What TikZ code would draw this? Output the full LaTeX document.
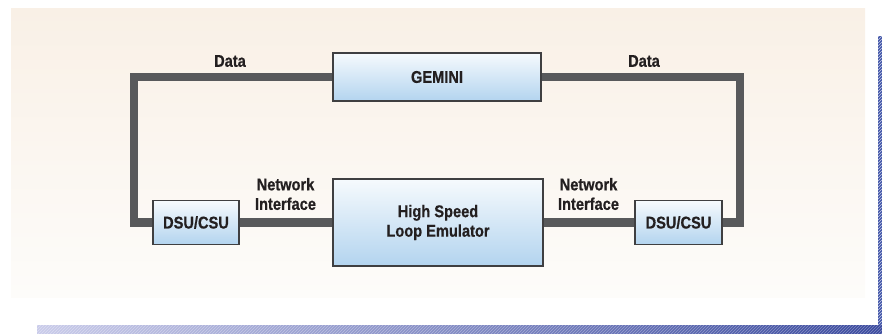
\documentclass[tikz,border=0pt]{standalone}
\usepackage{fontspec}
\usetikzlibrary{patterns}
\newfontfamily\labelfont[FakeStretch=0.86,FakeBold=0.6]{Liberation Sans}

\definecolor{panelTop}{HTML}{F9F0E6}
\definecolor{panelBottom}{HTML}{FDFCFA}
\definecolor{wireGray}{HTML}{58595B}
\definecolor{boxEdge}{HTML}{3F3F41}
\definecolor{boxTop}{HTML}{F6FAFD}
\definecolor{boxBottom}{HTML}{B3D4EF}
\definecolor{inkDark}{HTML}{231F20}
\definecolor{barLight}{HTML}{CACCEA}
\definecolor{barDark}{HTML}{3A4A9E}
\definecolor{barSide}{HTML}{4155A8}

\pgfdeclarelayer{backdrop}
\pgfdeclarelayer{wires}
\pgfsetlayers{backdrop,wires,main}

\tikzset{
  labeltext/.style={font=\labelfont\bfseries\fontsize{17}{19.5}\selectfont, text=inkDark, align=center},
  unitbox/.style={labeltext, draw=boxEdge, line width=1.3pt, top color=boxTop, bottom color=boxBottom,
    inner sep=0pt},
  tag/.style={labeltext, inner sep=0pt},
  wire/.style={draw=wireGray, line width=8.5pt, line join=miter, line cap=butt},
}

\begin{document}
\begin{tikzpicture}[x=1pt, y=1pt]
\useasboundingbox (0,0) rectangle (882,333);

\begin{pgfonlayer}{backdrop}
  % background panel with a warm vertical fade
  \shade[top color=panelTop, bottom color=panelBottom] (11,36) rectangle (865,324);
  % blue frame bars on the right and at the bottom
  \fill[barSide] (878,8) rectangle (882,297);
  \fill[pattern=north east lines, pattern color=white!70!barSide] (878,8) rectangle (882,297);
  \shade[left color=barLight, right color=barDark] (37,0) rectangle (882,8);
  \fill[pattern=north east lines, pattern color=white, opacity=0.35] (37,0) rectangle (882,8);
\end{pgfonlayer}

% units
\node[unitbox, minimum width=208pt, minimum height=48pt] (gem) at (437,256) {GEMINI};
\node[unitbox, minimum width=210pt, minimum height=87pt] (hsle) at (438,110.5) {High Speed\\Loop Emulator};
\node[unitbox, minimum width=86pt, minimum height=44pt] (dsul) at (196,110.5) {DSU/CSU};
\node[unitbox, minimum width=87pt, minimum height=44pt] (dsur) at (678.5,110.5) {DSU/CSU};

% loop corners
\coordinate (tl) at (134,256);
\coordinate (tr) at (740,256);

\begin{pgfonlayer}{wires}
  \draw[wire] (gem.west) -- (tl) |- (dsul.west);
  \draw[wire] (gem.east) -- (tr) |- (dsur.east);
  \draw[wire] (dsul.east) -- (hsle.west);
  \draw[wire] (hsle.east) -- (dsur.west);
\end{pgfonlayer}

% labels
\node[tag] (dataL) at (230,272) {Data};
\node[tag] (dataR) at (644,272) {Data};
\node[tag] (netL) at (285.5,139) {Network\\Interface};
\node[tag] (netR) at (588.5,139) {Network\\Interface};
\end{tikzpicture}
\end{document}
